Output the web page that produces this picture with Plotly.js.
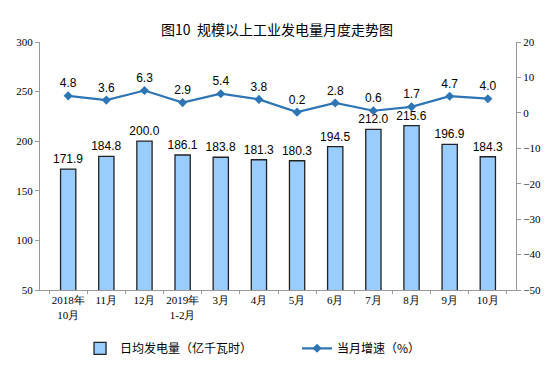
<!DOCTYPE html>
<html><head><meta charset="utf-8">
<script src="https://cdn.plot.ly/plotly-3.0.1.min.js"></script>
<style>body{margin:0;background:#fff}#c{width:554px;height:381px}</style>
</head><body><div id="c"></div>
<script>
const categories = ["2018年<br>10月","11月","12月","2019年<br>1-2月","3月","4月","5月","6月","7月","8月","9月","10月"];
const dailyOutput = [171.9,184.8,200.0,186.1,183.8,181.3,180.3,194.5,212.0,215.6,196.9,184.3];
const growthRate = [4.8,3.6,6.3,2.9,5.4,3.8,0.2,2.8,0.6,1.7,4.7,4.0];
const leftTicks = [50,100,150,200,250,300];
const rightTicks = [-50,-40,-30,-20,-10,0,10,20];

const traces = [
 {type:'bar', x:categories, y:dailyOutput, name:'日均发电量（亿千瓦时）',
  marker:{color:'#99ccff', line:{color:'#222', width:1.3}},
  text:dailyOutput.map(v=>v.toFixed(1)), textposition:'outside', cliponaxis:false,
  constraintext:'none',
  textfont:{family:'Liberation Sans, Arial', size:12, color:'#000'}},
 {type:'scatter', mode:'lines+markers+text', x:categories, y:growthRate, yaxis:'y2',
  name:'当月增速（%）', line:{color:'#2e75b6', width:2.2},
  marker:{symbol:'diamond', size:7, color:'#2e75b6'},
  text:growthRate.map(v=>v.toFixed(1)), textposition:'top center', cliponaxis:false,
  textfont:{family:'Liberation Sans, Arial', size:12, color:'#000'}}
];
const layout = {
 width:554, height:381, margin:{l:40, r:38, t:42, b:91},
 paper_bgcolor:'#fff', plot_bgcolor:'#fff',
 title:{text:'图10  规模以上工业发电量月度走势图', x:0.5, xanchor:'center', y:0.935,
  font:{family:'Noto Sans CJK SC', size:14, color:'#000'}},
 bargap:0.6, showlegend:true,
 legend:{orientation:'h', x:0.54, xanchor:'center', y:-0.235, yanchor:'middle',
  font:{family:'Noto Sans CJK SC', size:12, color:'#000'}, itemwidth:30, traceorder:'normal',
  entrywidth:172, entrywidthmode:'pixels'},
 xaxis:{type:'category', showline:true, linecolor:'#999', linewidth:1, ticks:'outside',
  tickson:'boundaries', ticklen:3, tickcolor:'#999', showgrid:false,
  tickfont:{family:'Liberation Serif, Times New Roman', size:11, color:'#000'}, tickangle:0},
 yaxis:{range:[50,300], tickvals:leftTicks, showline:true, linecolor:'#999', ticks:'outside',
  ticklen:4, tickcolor:'#999', showgrid:false, zeroline:false,
  tickfont:{family:'Liberation Serif, Times New Roman', size:11, color:'#000'}},
 yaxis2:{range:[-50,20], tickvals:rightTicks, overlaying:'y', side:'right', showline:true,
  linecolor:'#999', ticks:'outside', ticklen:4, tickcolor:'#999', showgrid:false, zeroline:false,
  tickfont:{family:'Liberation Serif, Times New Roman', size:11, color:'#000'}}
};
Plotly.newPlot('c', traces, layout, {displayModeBar:false, staticPlot:true});
</script></body></html>
